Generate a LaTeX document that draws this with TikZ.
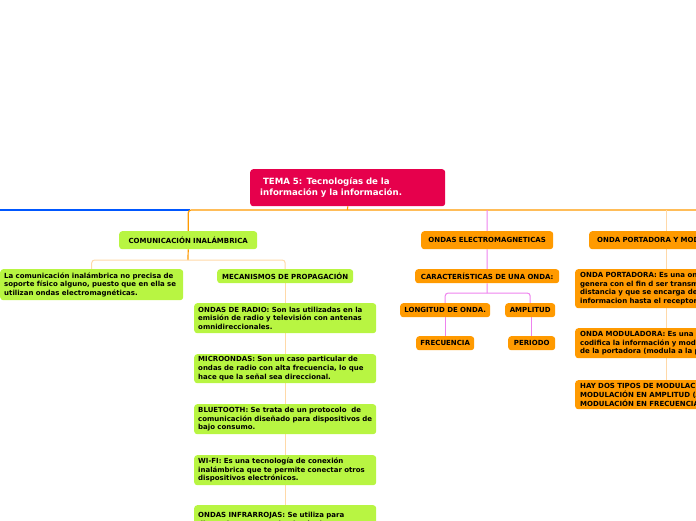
\documentclass[tikz,border=0pt]{standalone}
\usepackage{fontspec}
\setmainfont{DejaVu Sans}
\usetikzlibrary{backgrounds}
\definecolor{temared}{HTML}{E6004C}
\definecolor{limebox}{HTML}{B8F542}
\definecolor{orangebox}{HTML}{FF9A00}
\definecolor{orline}{HTML}{FF9A00}
\definecolor{paleor}{HTML}{FFD9A8}
\definecolor{pinkl}{HTML}{EE82EE}
\definecolor{bluel}{HTML}{0057FF}
\begin{document}
\begin{tikzpicture}[x=1pt, y=-1pt,
  every node/.style={font=\bfseries\fontsize{7}{8.7}\selectfont, inner ysep=0pt, anchor=north west, rounded corners=3pt},
  limebox/.style={fill=limebox, inner xsep=4pt},
  orbox/.style={fill=orangebox, inner xsep=4pt},
  mainline/.style={draw=orline, line width=1.2pt},
  paleline/.style={draw=paleor, line width=1pt},
  pinkline/.style={draw=pinkl, line width=1pt}]
  \useasboundingbox (0,0) rectangle (696,520);
  \clip (0,0) rectangle (696,520);

  \coordinate (hub) at (347.5,210);
  \coordinate (lend) at (0,210);
  \coordinate (bstart) at (190,210);
  \coordinate (rend) at (710,210);
  \coordinate (split1) at (188,260);
  \coordinate (split2) at (487,293);

  \node[fill=temared, text=white, font=\bfseries\fontsize{8.6}{10.8}\selectfont, inner xsep=10pt,
        text width=175pt, minimum height=37pt, align=left] (title) at (250,169)
        {\ TEMA 5: Tecnologías de la\\información y la información.};

  \node[limebox, text width=130pt, minimum height=18pt, align=center] (com) at (119,231) {COMUNICACIÓN INALÁMBRICA};
  \node[limebox, text width=175pt, minimum height=31pt, align=left] (def) at (0,269)
    {La comunicación inalámbrica no precisa de\\soporte físico alguno, puesto que en ella se\\utilizan ondas electromagnéticas.};
  \node[limebox, text width=128pt, minimum height=14pt, align=center] (mec) at (217,269) {MECANISMOS DE PROPAGACIÓN};
  \node[limebox, text width=174pt, minimum height=30pt, align=left] (radio) at (194,303)
    {ONDAS DE RADIO: Son las utilizadas en la\\emisión de radio y televisión con antenas\\omnidireccionales.};
  \node[limebox, text width=174pt, minimum height=29pt, align=left] (micro) at (194,354)
    {MICROONDAS: Son un caso particular de\\ondas de radio con alta frecuencia, lo que\\hace que la señal sea direccional.};
  \node[limebox, text width=174pt, minimum height=30pt, align=left] (bluet) at (194,404)
    {BLUETOOTH: Se trata de un protocolo\ \ de\\comunicación diseñado para dispositivos de\\bajo consumo.};
  \node[limebox, text width=174pt, minimum height=30pt, align=left] (wifi) at (194,455)
    {WI-FI: Es una tecnología de conexión\\inalámbrica que te permite conectar otros\\dispositivos electrónicos.};
  \node[limebox, text width=174pt, minimum height=30pt, align=left] (infra) at (194,505)
    {ONDAS INFRARROJAS: Se utiliza para\\distancias cortas y sin obstáculos.};

  \node[orbox, text width=124pt, minimum height=18pt, align=center] (ele) at (421,231) {ONDAS ELECTROMAGNETICAS};
  \node[orbox, text width=136pt, minimum height=14pt, align=center] (car) at (415,269) {CARACTERÍSTICAS DE UNA ONDA:};
  \node[orbox, text width=82pt, minimum height=14pt, align=center] (lon) at (400,303) {LONGITUD DE ONDA.};
  \node[orbox, text width=42pt, minimum height=14pt, align=center] (amp) at (505,303) {AMPLITUD};
  \node[orbox, text width=50pt, minimum height=14pt, align=center] (fre) at (416,336) {FRECUENCIA};
  \node[orbox, text width=39pt, minimum height=14pt, align=center] (per) at (508,336) {PERIODO};

  \node[orbox, inner xsep=8pt, text width=190pt, minimum height=18pt, align=left] (port) at (589,231) {ONDA PORTADORA Y MODULADORA};
  \node[orbox, inner xsep=5pt, text width=172pt, minimum height=39pt, align=left] (op) at (575,269)
    {ONDA PORTADORA: Es una onda\\genera con el fin d ser transmitida\\distancia y que se encarga de\\informacion hasta el receptor};
  \node[orbox, inner xsep=5pt, text width=172pt, minimum height=30pt, align=left] (om) at (575,328)
    {ONDA MODULADORA: Es una onda\\codifica la información y modifica\\de la portadora (modula a la portadora)};
  \node[orbox, inner xsep=5pt, text width=172pt, minimum height=29pt, align=left] (tipos) at (575,380)
    {HAY DOS TIPOS DE MODULACIÓN:\\MODULACIÓN EN AMPLITUD (AM)\\MODULACIÓN EN FRECUENCIA (FM)};

  % connectors behind the boxes
  \begin{scope}[on background layer]
    \clip (0,0) rectangle (696,520);
    \draw[mainline] (title.south) -- (hub);
    \draw[draw=bluel, line width=1.2pt] (bstart) -- (lend);
    \draw[mainline, rounded corners=3pt] (com.north) -- (com.north |- hub) -- (rend);
    \draw[mainline] (com.south) -- (split1);
    \draw[paleline, rounded corners=3pt] (def.north) -- (def.north |- split1) -- (mec.north |- split1) -- (mec.north);
    \draw[paleline] (mec.south) -- (radio.north) (radio.south) -- (micro.north)
      (micro.south) -- (bluet.north) (bluet.south) -- (wifi.north) (wifi.south) -- (infra.north);
    \draw[pinkline] (ele.north |- hub) -- (ele.north) (ele.south) -- (car.north) (car.south) -- (split2);
    \draw[pinkline, rounded corners=3pt] (lon.north) -- (lon.north |- split2) -- (amp.north |- split2) -- (amp.north);
    \draw[pinkline] (fre.north |- lon.south) -- (fre.north) (per.north |- amp.south) -- (per.north);
    \draw[paleline] (op.north |- hub) -- (op.north) (op.south) -- (om.north) (om.south) -- (tipos.north);
  \end{scope}
\end{tikzpicture}
\end{document}
